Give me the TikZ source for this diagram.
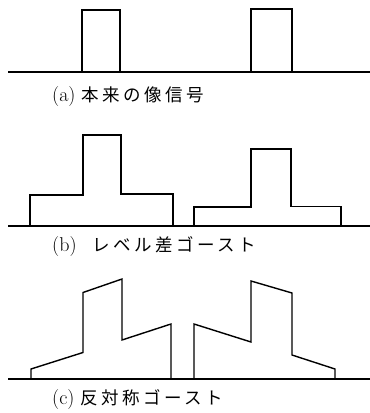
\documentclass[tikz,border=0pt]{standalone}
\usepackage{fontspec}
\newfontfamily\jp[LetterSpace=20]{Noto Sans CJK JP}
\begin{document}
\begin{tikzpicture}[x=1pt,y=-1pt,
  sig/.style={line width=1.4pt, line join=miter},
  base/.style={line width=1.4pt},
  lab/.style={anchor=west, inner sep=0pt, font=\fontsize{20}{22}\selectfont},
  jpt/.style={}]
\useasboundingbox (0,0) rectangle (370,413);
% (a)
\draw[base] (8,72) -- (370,72);
\draw[sig] (82,72) -- (82,10) -- (120,10) -- (120,72);
\draw[sig] (251,72) -- (251,9) -- (292,9) -- (292,72);
\node[lab] (la) at (52,97) {(a)\hspace{0.3em}{\jp\fontsize{17.5}{19}\selectfont 本来の像信号}};
% (b)
\draw[base] (8,226) -- (370,226);
\draw[sig] (30,226) -- (30,195) -- (83,195) -- (83,135) -- (121,135) -- (121,194) -- (173,194) -- (173,226);
\draw[sig] (194,226) -- (194,207) -- (251,207) -- (251,149) -- (291,149) -- (291,206.5) -- (341,206.5) -- (341,226);
\node[lab] (lb) at (52,247) {(b)\hspace{0.8em}{\jp\fontsize{17.5}{19}\selectfont レベル差ゴースト}};
% (c)
\draw[base] (8,379) -- (370,379);
\draw[sig] (31,379) -- (31,369) -- (83,352.5) -- (83,292.5) -- (122,279) -- (122,340) -- (171,324) -- (171,379);
\draw[sig] (194,379) -- (194,324) -- (251,342) -- (251,281) -- (292,293) -- (292,355) -- (335,369) -- (335,379);
\node[lab] (lc) at (52,400) {(c)\hspace{0.3em}{\jp\fontsize{17.5}{19}\selectfont 反対称ゴースト}};
\end{tikzpicture}
\end{document}
